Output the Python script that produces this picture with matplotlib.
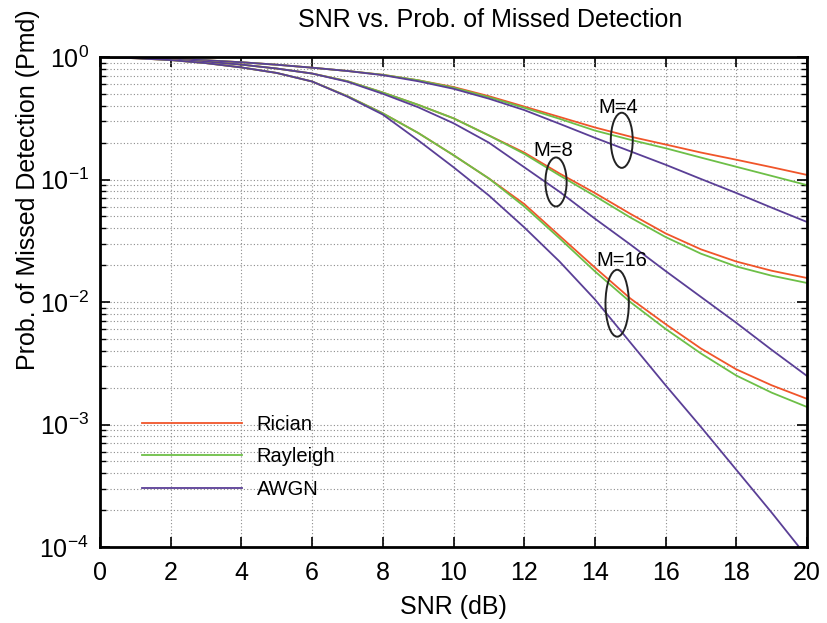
import matplotlib
matplotlib.use("Agg")
import matplotlib.pyplot as plt
from matplotlib.patches import Ellipse
from matplotlib.ticker import LogLocator, NullFormatter

plt.rcParams['font.family'] = ['Liberation Sans', 'DejaVu Sans']
plt.rcParams['mathtext.fontset'] = 'custom'
plt.rcParams['mathtext.rm'] = 'Liberation Sans'
plt.rcParams['mathtext.it'] = 'Liberation Sans:italic'
plt.rcParams['axes.unicode_minus'] = False

# SNR grid (dB)
snr = list(range(0, 21))

# Prob. of missed detection
m4_rician = [1.0, 0.984, 0.966, 0.940, 0.906, 0.865, 0.818, 0.769, 0.716, 0.646, 0.569,
             0.479, 0.394, 0.324, 0.266, 0.224, 0.193, 0.166, 0.145, 0.126, 0.109]
m4_rayleigh = [1.0, 0.984, 0.966, 0.940, 0.906, 0.865, 0.818, 0.769, 0.716, 0.646, 0.562,
               0.470, 0.385, 0.313, 0.251, 0.211, 0.180, 0.151, 0.127, 0.107, 0.090]
m4_awgn = [1.0, 0.984, 0.966, 0.940, 0.906, 0.865, 0.818, 0.769, 0.711, 0.634, 0.550,
           0.457, 0.369, 0.285, 0.219, 0.170, 0.132, 0.101, 0.0776, 0.0589, 0.045]

m8_rician = [1.0, 0.982, 0.955, 0.916, 0.867, 0.805, 0.733, 0.635, 0.513, 0.407, 0.316,
             0.229, 0.166, 0.112, 0.0776, 0.0525, 0.0363, 0.0269, 0.0214, 0.0180, 0.0157]
m8_rayleigh = [1.0, 0.982, 0.955, 0.916, 0.867, 0.805, 0.733, 0.635, 0.513, 0.407, 0.316,
               0.229, 0.162, 0.108, 0.0733, 0.049, 0.0339, 0.0248, 0.0195, 0.0164, 0.0143]
m8_awgn = [1.0, 0.982, 0.955, 0.916, 0.867, 0.805, 0.733, 0.628, 0.501, 0.389, 0.288,
           0.200, 0.126, 0.0794, 0.0479, 0.0295, 0.0179, 0.0110, 0.00676, 0.00407, 0.00249]

m16_rician = [1.0, 0.977, 0.944, 0.891, 0.822, 0.741, 0.631, 0.479, 0.347, 0.240, 0.158,
              0.102, 0.0631, 0.0347, 0.0191, 0.0107, 0.0066, 0.00417, 0.00282, 0.00209, 0.00162]
m16_rayleigh = [1.0, 0.977, 0.944, 0.891, 0.822, 0.741, 0.631, 0.479, 0.347, 0.240, 0.158,
                0.102, 0.0603, 0.0331, 0.0178, 0.0100, 0.00603, 0.0038, 0.00251, 0.00182, 0.00139]
m16_awgn = [1.0, 0.977, 0.944, 0.891, 0.822, 0.741, 0.631, 0.474, 0.339, 0.209, 0.126,
            0.0741, 0.0407, 0.0214, 0.0105, 0.00468, 0.00209, 0.000955, 0.000427, 0.000191, 0.000083]

c_rician = '#f0552a'
c_rayleigh = '#6dbf47'
c_awgn = '#5a3f96'

fig = plt.figure(figsize=(8.27, 6.23), dpi=100)
ax = fig.add_axes([100 / 827, 76 / 623, 707 / 827, 490 / 623])

groups = [(m4_rician, m4_rayleigh, m4_awgn),
          (m8_rician, m8_rayleigh, m8_awgn),
          (m16_rician, m16_rayleigh, m16_awgn)]
for i, (ric, ray, awgn) in enumerate(groups):
    ax.plot(snr, ric, color=c_rician, lw=1.3, label='Rician' if i == 0 else None)
    ax.plot(snr, ray, color=c_rayleigh, lw=1.3, label='Rayleigh' if i == 0 else None)
    ax.plot(snr, awgn, color=c_awgn, lw=1.3, label='AWGN' if i == 0 else None)

ax.set_yscale('log')
ax.set_xlim(0, 20)
ax.set_ylim(1e-4, 1)
ax.set_xticks(range(0, 21, 2))
ax.yaxis.set_major_locator(LogLocator(base=10, numticks=10))
ax.yaxis.set_minor_locator(LogLocator(base=10, subs=range(2, 10), numticks=100))
ax.yaxis.set_minor_formatter(NullFormatter())

ax.grid(True, which='major', axis='both', ls=(0, (1, 2)), color='#8c8c8c', lw=0.8)
ax.grid(True, which='minor', axis='y', ls=(0, (1, 2)), color='#8c8c8c', lw=0.8)

for s in ax.spines.values():
    s.set_linewidth(2)
ax.tick_params(which='both', direction='in', top=True, right=True, labelsize=18)
ax.tick_params(which='major', length=7, width=1.2)
ax.tick_params(which='minor', length=4, width=1)
ax.tick_params(axis='x', pad=10)
ax.tick_params(axis='y', pad=8)

ax.set_xlabel('SNR (dB)', fontsize=18, labelpad=7)
ax.set_ylabel('Prob. of Missed Detection (Pmd)', fontsize=18)
ax.yaxis.set_label_coords(-0.085, 0.73)
fig.text(490 / 827, 1 - 20 / 623, 'SNR vs. Prob. of Missed Detection',
         fontsize=18, ha='center', va='center')

# M annotations (ellipses in axes fraction)
for cx, cd, hw, hh, lx, ld, txt in [(14.76, 0.68, 0.31, 0.225, 14.65, 0.41, 'M=4'),
                                    (12.9, 1.02, 0.30, 0.20, 12.83, 0.76, 'M=8'),
                                    (14.63, 2.01, 0.33, 0.273, 14.76, 1.66, 'M=16')]:
    ax.add_patch(Ellipse((cx / 20, 1 - cd / 4), 2 * hw / 20, 2 * hh / 4,
                         transform=ax.transAxes, fill=False, ec='#222222', lw=1.4, zorder=5))
    ax.text(lx / 20, 1 - ld / 4, txt, transform=ax.transAxes, fontsize=14.5,
            ha='center', va='center', zorder=6)

ax.legend(loc='center left', bbox_to_anchor=(0.059, 0.184), frameon=False,
          fontsize=14.5, handlelength=5.0, handletextpad=0.7, labelspacing=0.68,
          borderpad=0, borderaxespad=0)

fig.savefig('out.png', dpi=100)
